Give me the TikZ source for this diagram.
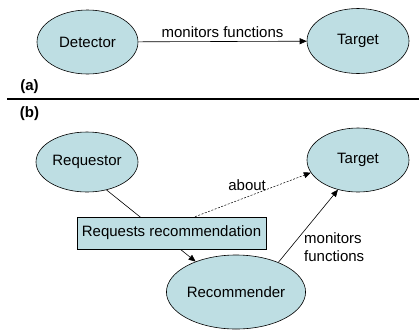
\documentclass[tikz,border=0pt]{standalone}
\usepackage{fontspec}
\setmainfont{Liberation Sans}
\usetikzlibrary{shapes.geometric,arrows.meta}
\definecolor{cyanfill}{RGB}{190,222,227}
\begin{document}
\begin{tikzpicture}[x=1pt,y=-1pt,
  ell/.style={draw=black,fill=cyanfill,ellipse,inner sep=0pt,line width=0.6pt,font=\fontsize{15}{18}\selectfont},
  rbox/.style={draw=black,fill=cyanfill,rectangle,inner sep=0pt,line width=0.6pt,font=\fontsize{15}{18}\selectfont},
  lab/.style={font=\fontsize{15}{18}\selectfont},
  tag/.style={font=\bfseries\fontsize{15}{18}\selectfont},
  conn/.style={line width=0.6pt},
  arr/.style={conn,-{Triangle[length=7pt,width=6pt]}}]
\useasboundingbox (0,0) rectangle (419,330);
% part (a)
\node[ell,minimum width=101pt,minimum height=64pt] (det) at (87.5,42) {Detector};
\node[ell,minimum width=102pt,minimum height=65pt] (ta) at (358,41) {Target};
\draw[arr] (det) -- node[lab,above,inner sep=4pt] {monitors functions} (ta);
\node[tag] (la) at (29.5,87) {(a)};
\coordinate (sepL) at (7,99);
\coordinate (sepR) at (419,99);
\draw[line width=1.2pt] (sepL) -- (sepR);
\node[tag] (lb) at (29.5,114) {(b)};
% part (b)
\node[ell,minimum width=102pt,minimum height=60pt] (req) at (87,162) {Requestor};
\node[ell,minimum width=102pt,minimum height=64pt] (tb) at (358,160) {Target};
\node[ell,minimum width=108pt,minimum height=74pt] (rec) at (236,292) {Recommender};
\draw[arr] (req.-55) -- (rec.143);
\node[rbox,minimum width=189pt,minimum height=32pt] (box) at (171.5,233) {Requests recommendation};
\draw[arr,dashed,dash pattern=on 2pt off 1.5pt,line width=0.5pt] ([xshift=23.5pt]box.north) -- node[lab,above,pos=0.45,inner sep=6pt] {about} (tb.-165);
\draw[arr] (rec.35) -- (tb.-124);
\node[lab,anchor=west,align=left,inner sep=0pt] (mf) at (304,247.5) {monitors\\functions};
\end{tikzpicture}
\end{document}
